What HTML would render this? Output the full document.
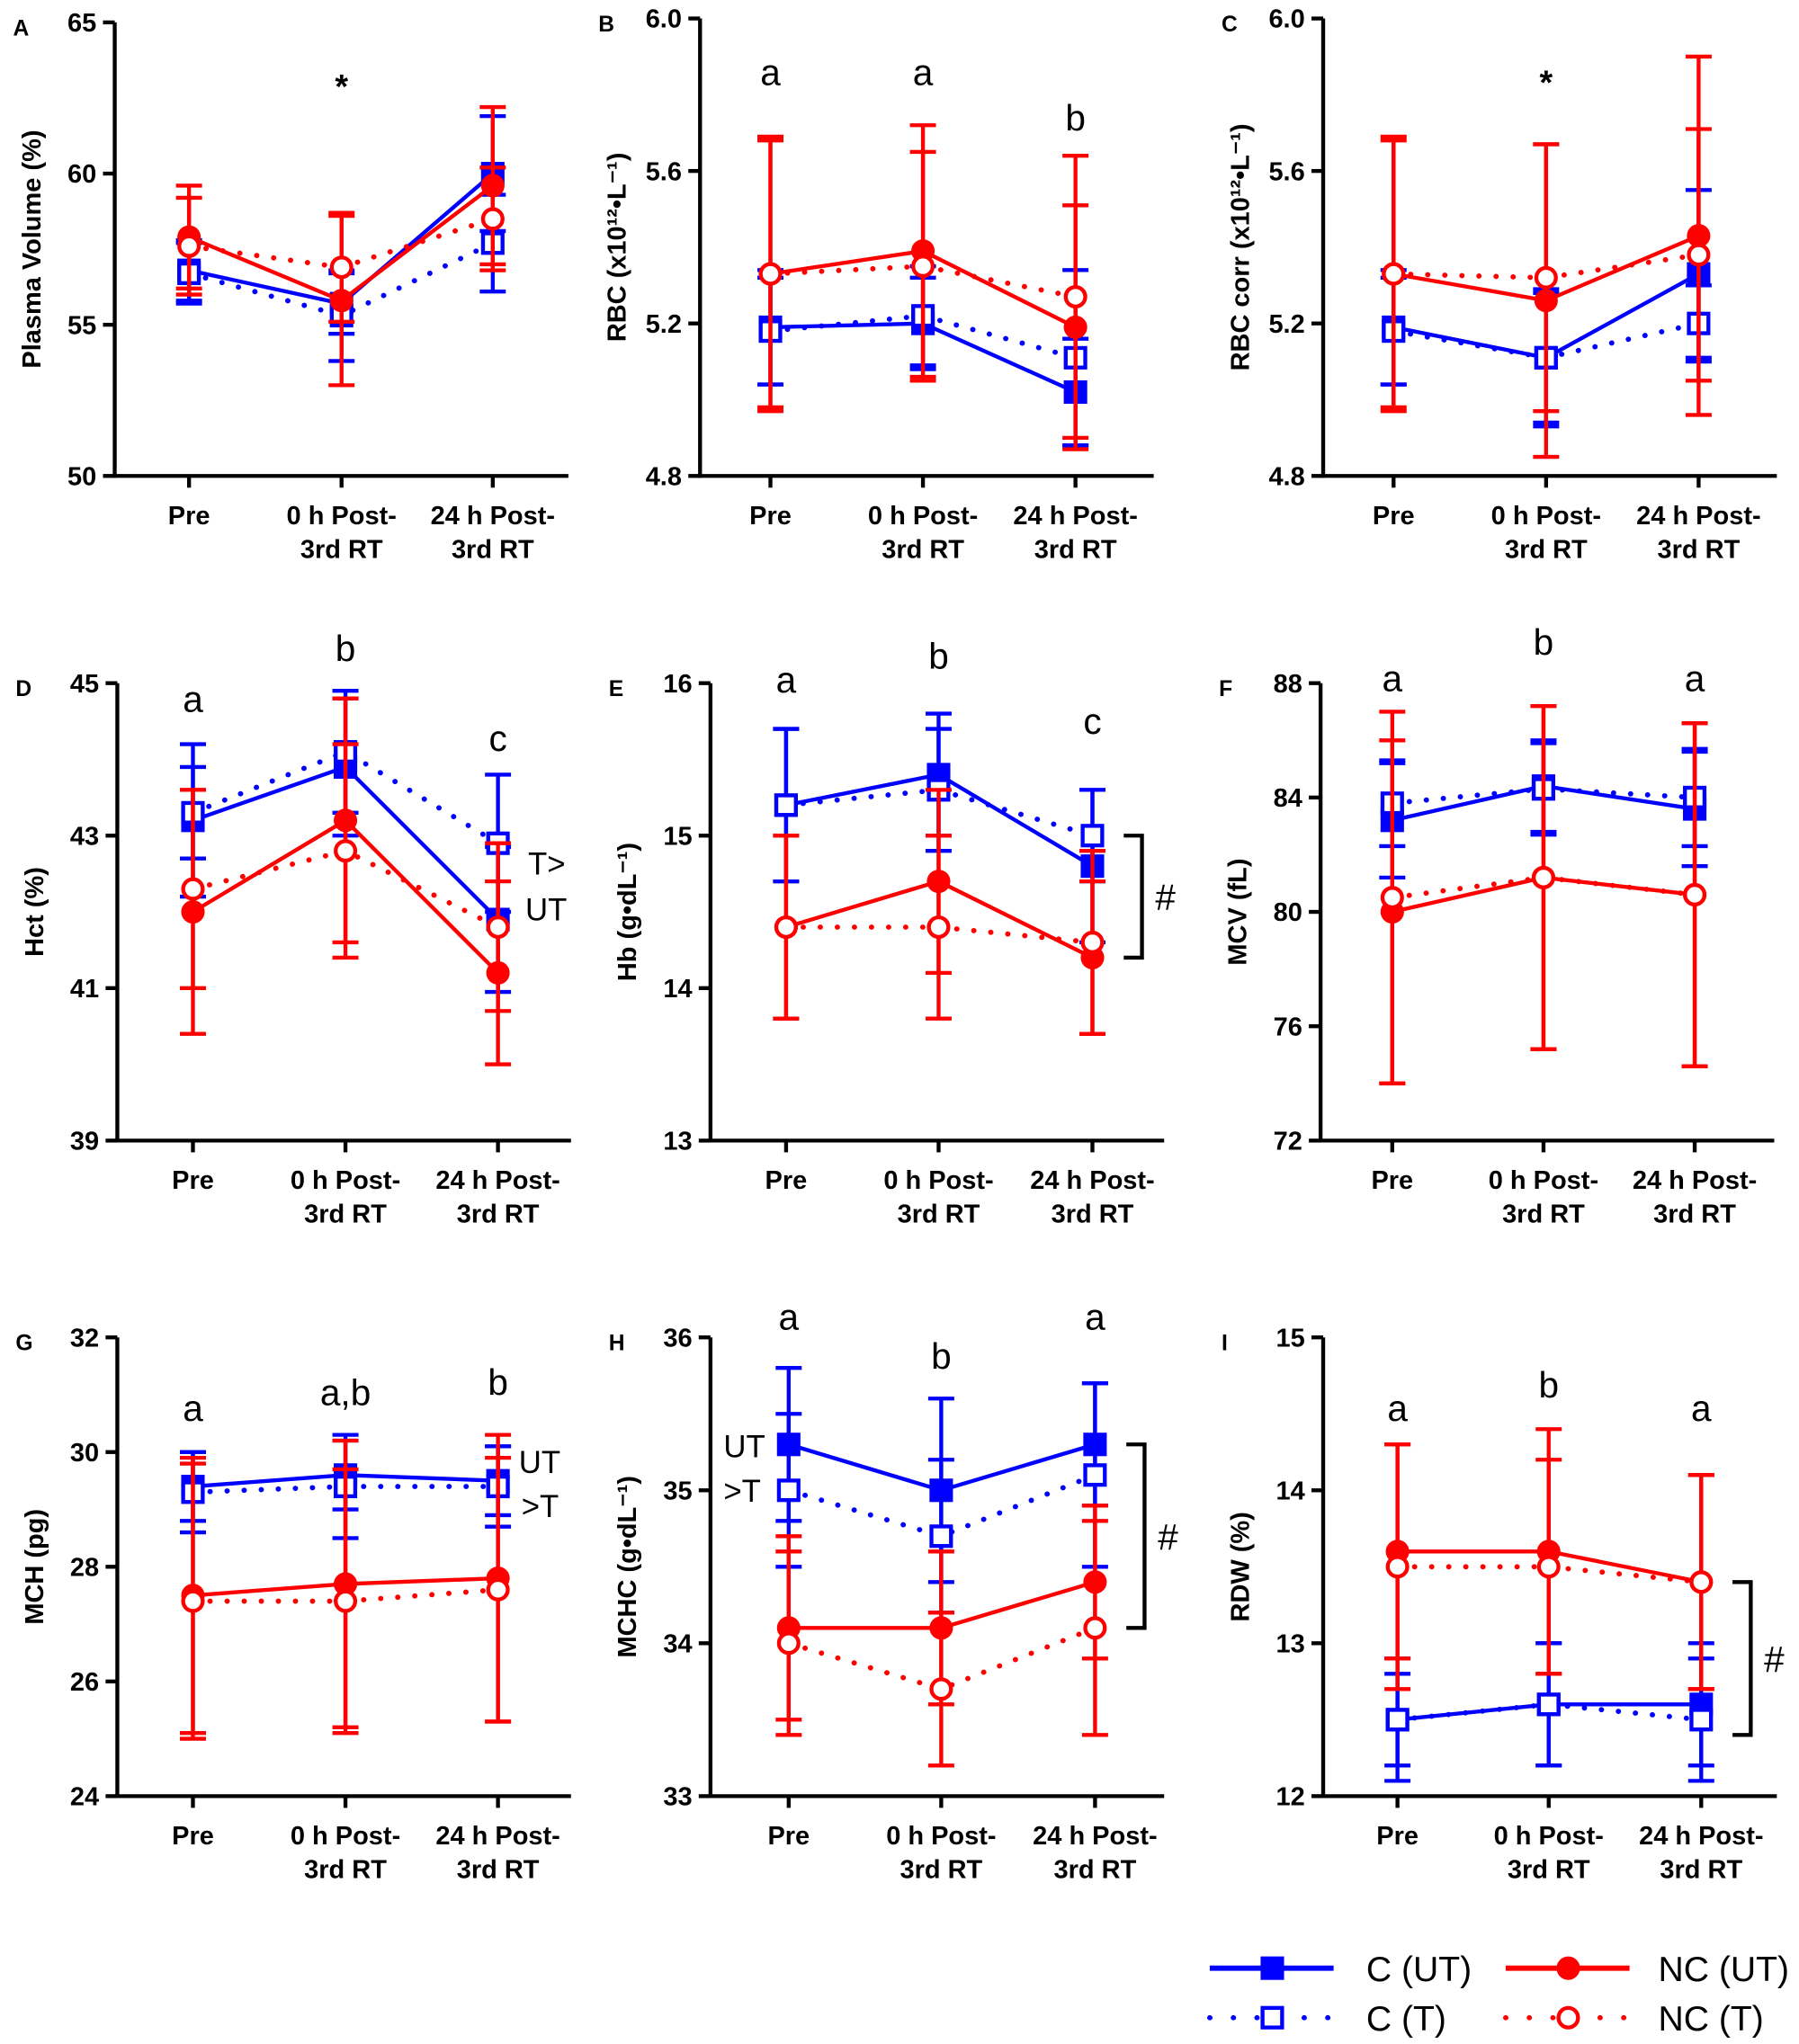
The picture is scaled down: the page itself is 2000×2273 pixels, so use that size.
<!DOCTYPE html>
<html><head><meta charset="utf-8"><style>
html,body{margin:0;padding:0;background:#fff;}
svg{display:block;font-family:"Liberation Sans",Arial,sans-serif;}
</style></head><body>
<svg id="fig" width="2000" height="2273" viewBox="0 0 1380 1568" xmlns="http://www.w3.org/2000/svg"></svg>
<script>
// ---- data (mean, sd) per panel ----
const xCategories=["Pre","0 h Post-|3rd RT","24 h Post-|3rd RT"];
const A_cut=[56.8,55.7,60.0], A_cut_sd=[1.0,1.0,1.9];
const A_ct=[56.7,55.3,57.7], A_ct_sd=[1.0,1.5,1.6];
const A_ncut=[57.9,55.8,59.6], A_ncut_sd=[1.7,2.8,2.6];
const A_nct=[57.6,56.9,58.5], A_nct_sd=[1.6,1.8,1.7];
const B_cut=[5.19,5.20,5.02], B_cut_sd=[0.15,0.12,0.14];
const B_ct=[5.18,5.22,5.11], B_ct_sd=[0.14,0.13,0.23];
const B_ncut=[5.33,5.39,5.19], B_ncut_sd=[0.36,0.33,0.32];
const B_nct=[5.33,5.35,5.27], B_nct_sd=[0.35,0.30,0.37];
const C_cut=[5.19,5.11,5.33], C_cut_sd=[0.15,0.17,0.22];
const C_ct=[5.18,5.11,5.20], C_ct_sd=[0.14,0.18,0.10];
const C_ncut=[5.33,5.26,5.43], C_ncut_sd=[0.36,0.41,0.47];
const C_nct=[5.33,5.32,5.38], C_nct_sd=[0.35,0.35,0.33];
const D_cut=[43.2,43.9,41.9], D_cut_sd=[1.0,0.9,0.95];
const D_ct=[43.3,44.1,42.9], D_ct_sd=[0.6,0.8,0.9];
const D_ncut=[42.0,43.2,41.2], D_ncut_sd=[1.6,1.6,1.2];
const D_nct=[42.3,42.8,41.8], D_nct_sd=[1.3,1.4,1.1];
const E_cut=[15.2,15.4,14.8], E_cut_sd=[0.5,0.4,0.5];
const E_ct=[15.2,15.3,15.0], E_ct_sd=[0.5,0.4,0.3];
const E_ncut=[14.4,14.7,14.2], E_ncut_sd=[0.6,0.6,0.5];
const E_nct=[14.4,14.4,14.3], E_nct_sd=[0.6,0.6,0.6];
const F_cut=[83.2,84.4,83.6], F_cut_sd=[2.0,1.6,2.0];
const F_ct=[83.8,84.3,84.0], F_ct_sd=[1.5,1.6,1.7];
const F_ncut=[80.0,81.2,80.6], F_ncut_sd=[6.0,6.0,6.0];
const F_nct=[80.5,81.2,80.6], F_nct_sd=[6.5,6.0,6.0];
const G_cut=[29.4,29.6,29.5], G_cut_sd=[0.6,0.6,0.6];
const G_ct=[29.3,29.4,29.4], G_ct_sd=[0.7,0.9,0.7];
const G_ncut=[27.5,27.7,27.8], G_ncut_sd=[2.4,2.5,2.5];
const G_nct=[27.4,27.4,27.6], G_nct_sd=[2.4,2.3,2.3];
const H_cut=[35.3,35.0,35.3], H_cut_sd=[0.5,0.6,0.4];
const H_ct=[35.0,34.7,35.1], H_ct_sd=[0.5,0.5,0.6];
const H_ncut=[34.1,34.1,34.4], H_ncut_sd=[0.6,0.5,0.5];
const H_nct=[34.0,33.7,34.1], H_nct_sd=[0.6,0.5,0.7];
const I_cut=[12.5,12.6,12.6], I_cut_sd=[0.4,0.4,0.4];
const I_ct=[12.5,12.6,12.5], I_ct_sd=[0.3,0.4,0.4];
const I_ncut=[13.6,13.6,13.4], I_ncut_sd=[0.7,0.8,0.7];
const I_nct=[13.5,13.5,13.4], I_nct_sd=[0.8,0.7,0.7];
const A_ticks=[50,55,60,65], B_ticks=[4.8,5.2,5.6,6.0], C_ticks=[4.8,5.2,5.6,6.0];
const D_ticks=[39,41,43,45], E_ticks=[13,14,15,16], F_ticks=[72,76,80,84,88];
const G_ticks=[24,26,28,30,32], H_ticks=[33,34,35,36], I_ticks=[12,13,14,15];
const A_sig=["","*",""], B_sig=["a","a","b"], C_sig=["","*",""];
const D_sig=["a","b","c"], E_sig=["a","b","c"], F_sig=["a","b","a"];
const G_sig=["a","a,b","b"], H_sig=["a","b","a"], I_sig=["a","b","a"];

const NS="http://www.w3.org/2000/svg";
const svg=document.getElementById('fig');
function mk(tag,attrs,parent){const e=document.createElementNS(NS,tag);for(const k in attrs)e.setAttribute(k,attrs[k]);(parent||svg).appendChild(e);return e;}
function txt(s,x,y,size,parent,opts){opts=opts||{};const t=mk('text',{x:x,y:y,'font-size':size,'text-anchor':opts.anchor||'middle','font-weight':opts.bold?'bold':'normal',fill:'#000'},parent);if(opts.rot)t.setAttribute('transform','rotate(-90 '+x+' '+y+')');t.textContent=s;return t;}

const panels=[
 {id:'A',ax:88,top:17,bot:365,xs:[145,262,378],ymin:50,ymax:65,ticks:A_ticks,fmt:0,title:'Plasma  Volume (%)',d:[A_cut,A_cut_sd,A_ct,A_ct_sd,A_ncut,A_ncut_sd,A_nct,A_nct_sd],sig:A_sig,sigY:[0,75,0]},
 {id:'B',ax:537,top:14,bot:365,xs:[591,708,825],ymin:4.8,ymax:6.0,ticks:B_ticks,fmt:1,title:'RBC (x10¹²•L⁻¹)',d:[B_cut,B_cut_sd,B_ct,B_ct_sd,B_ncut,B_ncut_sd,B_nct,B_nct_sd],sig:B_sig,sigY:[65,65,100]},
 {id:'C',ax:1015,top:14,bot:365,xs:[1069,1186,1303],ymin:4.8,ymax:6.0,ticks:C_ticks,fmt:1,title:'RBC corr (x10¹²•L⁻¹)',d:[C_cut,C_cut_sd,C_ct,C_ct_sd,C_ncut,C_ncut_sd,C_nct,C_nct_sd],sig:C_sig,sigY:[0,72,0]},
 {id:'D',ax:90,top:524,bot:875,xs:[148,265,382],ymin:39,ymax:45,ticks:D_ticks,fmt:0,title:'Hct (%)',d:[D_cut,D_cut_sd,D_ct,D_ct_sd,D_ncut,D_ncut_sd,D_nct,D_nct_sd],sig:D_sig,sigY:[546,507,576]},
 {id:'E',ax:545,top:524,bot:875,xs:[603,720,838],ymin:13,ymax:16,ticks:E_ticks,fmt:0,title:'Hb (g•dL⁻¹)',d:[E_cut,E_cut_sd,E_ct,E_ct_sd,E_ncut,E_ncut_sd,E_nct,E_nct_sd],sig:E_sig,sigY:[531,513,563],bracket:[15.0,14.2]},
 {id:'F',ax:1013,top:524,bot:875,xs:[1068,1184,1300],ymin:72,ymax:88,ticks:F_ticks,fmt:0,title:'MCV (fL)',d:[F_cut,F_cut_sd,F_ct,F_ct_sd,F_ncut,F_ncut_sd,F_nct,F_nct_sd],sig:F_sig,sigY:[530,502,530]},
 {id:'G',ax:90,top:1026,bot:1378,xs:[148,265,382],ymin:24,ymax:32,ticks:G_ticks,fmt:0,title:'MCH (pg)',d:[G_cut,G_cut_sd,G_ct,G_ct_sd,G_ncut,G_ncut_sd,G_nct,G_nct_sd],sig:G_sig,sigY:[1090,1078,1070]},
 {id:'H',ax:545,top:1026,bot:1378,xs:[605,722,840],ymin:33,ymax:36,ticks:H_ticks,fmt:0,title:'MCHC (g•dL⁻¹)',d:[H_cut,H_cut_sd,H_ct,H_ct_sd,H_ncut,H_ncut_sd,H_nct,H_nct_sd],sig:H_sig,sigY:[1020,1050,1020],bracket:[35.3,34.1]},
 {id:'I',ax:1015,top:1026,bot:1378,xs:[1072,1188,1305],ymin:12,ymax:15,ticks:I_ticks,fmt:0,title:'RDW (%)',d:[I_cut,I_cut_sd,I_ct,I_ct_sd,I_ncut,I_ncut_sd,I_nct,I_nct_sd],sig:I_sig,sigY:[1090,1072,1090],bracket:[13.4,12.4]}
];
const styles=[
 {c:'#0000ff',dash:false,m:'sq',fill:true,name:'c-ut'},
 {c:'#0000ff',dash:true,m:'sq',fill:false,name:'c-t'},
 {c:'#ff0000',dash:false,m:'ci',fill:true,name:'nc-ut'},
 {c:'#ff0000',dash:true,m:'ci',fill:false,name:'nc-t'}];

function marker(g,type,fill,c,x,y){
 if(type==='sq'){
  if(fill) mk('rect',{x:x-9,y:y-9,width:18,height:18,fill:c},g);
  else mk('rect',{x:x-7.5,y:y-7.5,width:15,height:15,fill:'#fff',stroke:c,'stroke-width':3},g);
 } else {
  if(fill) mk('circle',{cx:x,cy:y,r:9,fill:c},g);
  else mk('circle',{cx:x,cy:y,r:7.5,fill:'#fff',stroke:c,'stroke-width':3},g);
 }
}

panels.forEach(p=>{
 const g=mk('g',{});
 
 
 const sy=v=>p.bot-(v-p.ymin)/(p.ymax-p.ymin)*(p.bot-p.top);
 // panel letter
 const pl=txt(p.id,p.ax-78,p.top+10,17,g,{bold:true,anchor:'start'});
 
 // axes
 mk('line',{x1:p.ax,y1:p.top,x2:p.ax,y2:p.bot+1.5,stroke:'#000','stroke-width':3},g);
 mk('line',{x1:p.ax-1.5,y1:p.bot,x2:p.ax+348,y2:p.bot,stroke:'#000','stroke-width':3},g);
 p.ticks.forEach(t=>{
  const y=sy(t);
  mk('line',{x1:p.ax-9,y1:y,x2:p.ax,y2:y,stroke:'#000','stroke-width':3},g);
  txt(t.toFixed(p.fmt),p.ax-14,y+7,20,g,{bold:true,anchor:'end'});
 });
 p.xs.forEach((x,i)=>{
  mk('line',{x1:x,y1:p.bot,x2:x,y2:p.bot+9,stroke:'#000','stroke-width':3},g);
  const parts=xCategories[i].split('|');
  parts.forEach((s,k)=>txt(s,x,p.bot+37+k*26,20,g,{bold:true}));
 });
 const yt=txt(p.title,p.ax-57,(p.top+p.bot)/2,20,g,{bold:true,rot:true});
 
 // series
 styles.forEach((s,si)=>{
  const m=p.d[si*2], sd=p.d[si*2+1];
  const sg=mk('g',{},g);
  
  
  m.forEach((v,i)=>{
   const x=p.xs[i];
   mk('line',{x1:x,y1:sy(v+sd[i]),x2:x,y2:sy(v-sd[i]),stroke:s.c,'stroke-width':3},sg);
   mk('line',{x1:x-10,y1:sy(v+sd[i]),x2:x+10,y2:sy(v+sd[i]),stroke:s.c,'stroke-width':3},sg);
   mk('line',{x1:x-10,y1:sy(v-sd[i]),x2:x+10,y2:sy(v-sd[i]),stroke:s.c,'stroke-width':3},sg);
  });
  const pts=m.map((v,i)=>p.xs[i]+','+sy(v)).join(' ');
  const pl=mk('polyline',{points:pts,fill:'none',stroke:s.c,'stroke-width':s.dash?4:3},sg);
  if(s.dash){pl.setAttribute('stroke-dasharray','0.1 13');pl.setAttribute('stroke-linecap','round');}
  m.forEach((v,i)=>marker(sg,s.m,s.fill,s.c,p.xs[i],sy(v)));
 });
 // significance
 p.sig.forEach((s,i)=>{ if(s){
  const t=txt(s,p.xs[i],p.sigY[i]+(s==='*'?12:0),s==='*'?26:28,g,{bold:s==='*'});
  if(p.id==='A'||p.id==='C') t.setAttribute('y',p.sigY[i]);
  
 }});
 if(p.bracket){
  const y1=sy(p.bracket[0]),y2=sy(p.bracket[1]),bx=p.xs[2]+38;
  mk('polyline',{points:(bx-14)+','+y1+' '+bx+','+y1+' '+bx+','+y2+' '+(bx-14)+','+y2,fill:'none',stroke:'#000','stroke-width':3},g);
  txt('#',bx+18,(y1+y2)/2+10,28,g);
 }
});
// extra annotations
txt('T>',405,671,24,svg,{anchor:'start'});
txt('UT',403,706,24,svg,{anchor:'start'});
txt('UT',398,1130,24,svg,{anchor:'start'});
txt('>T',400,1164,24,svg,{anchor:'start'});
txt('UT',555,1118,24,svg,{anchor:'start'});
txt('>T',555,1152,24,svg,{anchor:'start'});
// legend
const lg=mk('g',{});


const legRows=[[0,928,1510,'C (UT)',1048],[2,1155,1510,'NC (UT)',1272],[1,928,1548,'C (T)',1048],[3,1155,1548,'NC (T)',1272]];
legRows.forEach(r=>{
 const s=styles[r[0]],x=r[1],y=r[2];
 const l=mk('line',{x1:x,y1:y,x2:x+95,y2:y,stroke:s.c,'stroke-width':s.dash?4:4},lg);
 if(s.dash){l.setAttribute('stroke-dasharray','0.1 18');l.setAttribute('stroke-linecap','round');}
 marker(lg,s.m,s.fill,s.c,x+48,y);
 txt(r[3],r[4],y+10,27,lg,{anchor:'start'});
});
</script>
</body></html>
